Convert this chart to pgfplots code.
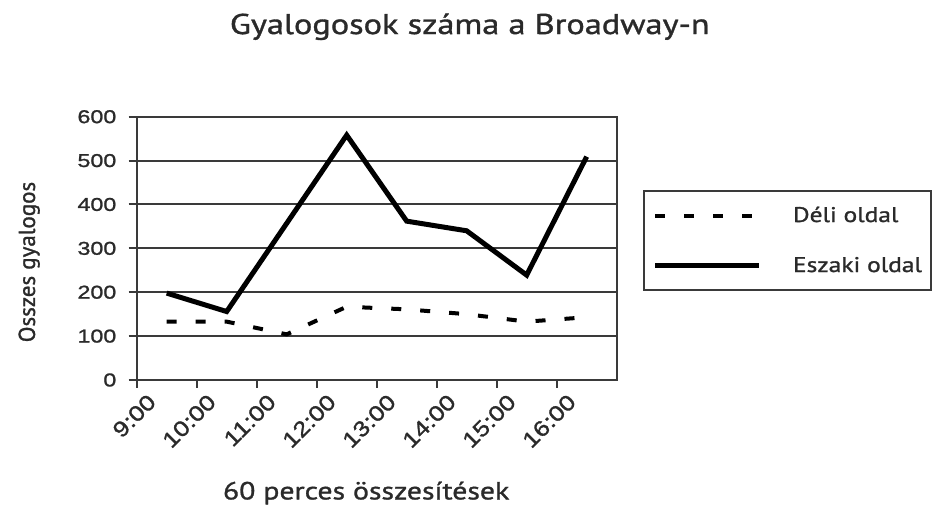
\documentclass[border=0pt]{standalone}
\usepackage{pgfplots}
\pgfplotsset{compat=1.18}
\usepackage{fontspec}
\setmainfont{PT Sans}[FakeStretch=1.2, FakeBold=1.2]
\newfontfamily\plainfont{PT Sans}[FakeBold=1.2]
\newfontfamily\tickfont{Liberation Sans}[FakeStretch=1.25, FakeBold=1.2]
\newfontfamily\xtickfont{Liberation Sans}[FakeStretch=1.2, FakeBold=1.2]
\definecolor{gridc}{HTML}{3A3A3A}
\definecolor{txt}{HTML}{2A2A2A}
\pgfplotstableread{
x deli eszaki
0.5 133 198
1.5 133 156
2.5 104 357
3.5 167 558
4.5 161 362
5.5 150 340
6.5 133 239
7.5 143 509
}\datatable
\begin{document}
\begin{tikzpicture}
\path[use as bounding box] (0,0) rectangle (467pt,254.5pt);
\begin{axis}[
  at={(68.35pt,64.5pt)}, anchor=south west,
  scale only axis, width=240pt, height=131.65pt,
  xmin=0, xmax=8, ymin=0, ymax=600,
  xtick={0,...,7},
  xticklabels={9:00,10:00,11:00,12:00,13:00,14:00,15:00,16:00},
  ytick={0,100,...,600},
  ymajorgrids, grid style={gridc, line width=1pt},
  axis line style={gridc, line width=1pt},
  tick style={gridc, line width=1pt},
  tick align=outside, major tick length=4pt,
  xtick pos=lower, ytick pos=left,
  /pgf/number format/assume math mode=true,
  yticklabel style={font=\tickfont\fontsize{9.3}{10}\selectfont, text=txt, anchor=east, inner sep=0pt, xshift=-6pt},
  xticklabel style={font=\xtickfont\fontsize{10.8}{12}\selectfont, text=txt, rotate=45, anchor=east, inner sep=0pt, yshift=-9pt, xshift=2pt},
  title={Gyalogosok száma a Broadway-n},
  title style={at={(axis description cs:0.694,1.2685)}, anchor=base, font=\fontsize{14.3}{16}\selectfont, text=txt},
  xlabel={60 perces összesítések},
  xlabel style={at={(axis description cs:0.478,-0.429)}, anchor=center, font=\fontsize{12.4}{14}\selectfont, text=txt},
  ylabel={Osszes gyalogos},
  ylabel style={at={(axis description cs:-0.224,0.448)}, anchor=center, font=\plainfont\fontsize{11.5}{13}\selectfont, text=txt},
  legend style={at={(axis description cs:1.054,0.7216)}, anchor=north west,
    draw=gridc, line width=1pt, inner xsep=4.5pt, inner ysep=7pt,
    font=\fontsize{10.6}{12}\selectfont, text=txt,
    nodes={inner sep=0pt, text depth=2pt, text height=8.5pt},
    column sep=16pt, row sep=14.5pt},
  legend cell align=left,
  legend image code/.code={\draw[#1] (0pt,0pt) -- (51.7pt,0pt);},
]
\addplot[black, line width=2pt, dash pattern=on 5pt off 9.5pt] table[x=x, y=deli] {\datatable};
\addlegendentry{Déli oldal}
\addplot[black, line width=2.5pt, line join=miter] table[x=x, y=eszaki] {\datatable};
\addlegendentry{Eszaki oldal}
\end{axis}
\end{tikzpicture}
\end{document}
